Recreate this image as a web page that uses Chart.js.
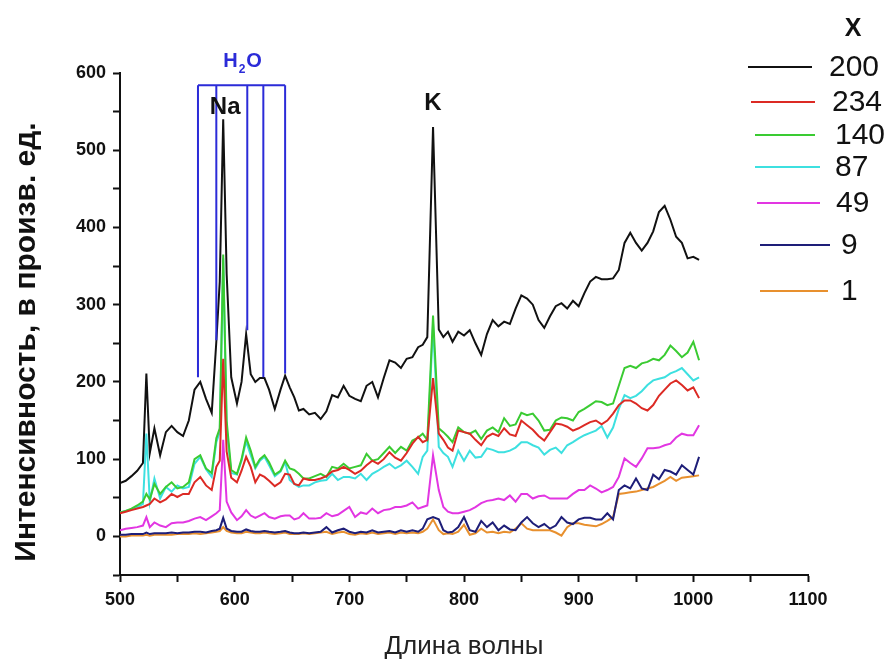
<!DOCTYPE html>
<html>
<head>
<meta charset="utf-8">
<script src="https://cdn.jsdelivr.net/npm/chart.js@4.4.1/dist/chart.umd.min.js"></script>
<style>
    html, body { margin: 0; padding: 0; background: #fff; }
    #wrap { width: 888px; height: 660px; }
</style>
</head>
<body>
<div id="wrap"><canvas id="grafico" width="888" height="660"></canvas></div>
<script>
// длина волны, нм
const wl = [500, 505, 510, 515, 520, 523, 526, 530, 535, 540, 545, 550, 555, 560, 565, 570, 575, 580, 584, 587,
    590, 593, 597, 602, 606, 610, 614, 618, 622, 626, 630, 635, 640, 644, 648, 652, 656, 660, 665, 670,
    675, 680, 685, 690, 695, 700, 705, 710, 715, 720, 725, 730, 735, 740, 745, 750, 755, 760, 764, 768,
    773, 778, 782, 786, 790, 795, 800, 805, 810, 815, 820, 825, 830, 835, 840, 845, 850, 855, 860, 865,
    870, 875, 880, 885, 890, 895, 900, 905, 910, 915, 920, 925, 930, 935, 940, 945, 950, 955, 960, 965,
    970, 975, 980, 985, 990, 995, 1000, 1005];

const x200 = [69, 72, 78, 85, 95, 211, 108, 140, 105, 135, 143, 135, 130, 150, 190, 200, 178, 160, 252, 330,
    540, 340, 206, 172, 200, 262, 210, 200, 205, 205, 190, 165, 190, 208, 193, 180, 163, 165, 158, 160,
    152, 162, 183, 180, 195, 182, 178, 175, 195, 200, 180, 205, 228, 225, 218, 230, 232, 245, 248, 258,
    530, 268, 258, 265, 252, 265, 260, 267, 250, 235, 262, 280, 272, 278, 275, 295, 312, 308, 300, 280,
    270, 285, 298, 302, 295, 305, 298, 315, 330, 336, 333, 333, 334, 345, 380, 393, 380, 370, 380, 395,
    420, 428, 410, 388, 380, 360, 362, 358];

const x234 = [30, 32, 34, 36, 38, 40, 42, 49, 44, 48, 55, 51, 55, 55, 70, 77, 66, 60, 90, 98,
    230, 110, 76, 70, 85, 103, 90, 70, 80, 77, 72, 65, 70, 81, 80, 68, 66, 75, 73, 73,
    75, 78, 84, 86, 90, 86, 81, 85, 92, 98, 94, 100, 109, 102, 98, 108, 120, 129, 122, 125,
    205, 133, 125, 115, 111, 137, 135, 133, 125, 118, 129, 133, 130, 140, 132, 130, 150, 144, 138, 130,
    124, 135, 146, 145, 142, 137, 140, 144, 148, 150, 145, 150, 159, 170, 176, 176, 172, 166, 163, 170,
    182, 190, 198, 202, 196, 189, 193, 179];

const x140 = [31, 33, 36, 40, 45, 55, 48, 68, 55, 64, 70, 62, 64, 70, 100, 105, 88, 82, 127, 140,
    365, 150, 86, 81, 100, 128, 111, 90, 100, 105, 96, 80, 85, 98, 88, 86, 81, 75, 75, 78,
    81, 77, 90, 88, 94, 88, 90, 92, 107, 98, 100, 108, 116, 108, 116, 111, 124, 128, 133, 125,
    286, 140, 135, 129, 122, 141, 135, 133, 137, 126, 137, 141, 135, 153, 143, 145, 160, 157, 159, 150,
    137, 138, 150, 154, 153, 150, 161, 165, 170, 175, 174, 170, 172, 195, 218, 221, 218, 224, 226, 230,
    228, 235, 247, 240, 232, 238, 252, 228];

const x87 = [31, 33, 35, 38, 42, 133, 45, 75, 49, 64, 58, 66, 62, 64, 94, 103, 87, 77, 122, 135,
    360, 140, 82, 80, 98, 123, 105, 88, 98, 103, 92, 78, 84, 96, 73, 68, 64, 66, 66, 70,
    72, 73, 81, 73, 77, 77, 75, 81, 73, 81, 85, 90, 94, 88, 92, 98, 90, 81, 103, 111,
    275, 116, 108, 103, 90, 111, 98, 111, 102, 103, 114, 112, 109, 109, 111, 115, 122, 122, 118, 115,
    106, 112, 115, 108, 118, 122, 127, 131, 134, 137, 143, 128, 141, 165, 183, 179, 182, 188, 196, 202,
    204, 206, 211, 214, 218, 210, 202, 206];

const x49 = [8, 10, 11, 12, 14, 25, 12, 18, 14, 12, 17, 18, 18, 20, 23, 25, 21, 26, 30, 34,
    125, 45, 31, 21, 26, 34, 27, 24, 27, 30, 25, 23, 26, 27, 27, 22, 24, 30, 23, 23,
    24, 30, 26, 28, 33, 38, 25, 31, 29, 36, 30, 34, 35, 38, 38, 40, 44, 36, 38, 40,
    105, 60, 38, 32, 30, 30, 32, 34, 38, 43, 46, 47, 49, 47, 53, 45, 55, 55, 49, 52,
    53, 49, 49, 49, 49, 55, 60, 60, 66, 62, 57, 60, 64, 77, 101, 95, 90, 101, 114, 114,
    115, 118, 120, 128, 133, 131, 131, 144];

const x9 = [2, 2, 3, 3, 3, 5, 3, 4, 4, 4, 5, 4, 5, 5, 6, 6, 5, 7, 8, 10,
    24, 10, 7, 6, 6, 9, 7, 6, 6, 7, 6, 5, 6, 7, 5, 4, 4, 5, 4, 5,
    6, 12, 5, 8, 10, 6, 4, 6, 5, 8, 5, 6, 7, 5, 8, 6, 8, 6, 10, 22,
    25, 22, 8, 5, 6, 12, 25, 8, 6, 20, 12, 18, 8, 14, 9, 8, 18, 25, 17, 12,
    16, 10, 14, 25, 18, 16, 22, 24, 24, 22, 22, 30, 22, 60, 66, 62, 75, 62, 60, 80,
    74, 86, 84, 80, 92, 86, 80, 103];

const x1 = [0, 0, 1, 1, 1, 2, 1, 2, 2, 2, 2, 3, 3, 3, 4, 3, 4, 5, 6, 7,
    12, 7, 5, 4, 4, 6, 5, 4, 4, 5, 4, 3, 4, 5, 3, 3, 3, 4, 3, 4,
    5, 6, 3, 5, 6, 3, 2, 4, 3, 5, 3, 4, 5, 3, 5, 4, 5, 4, 6, 10,
    22, 8, 3, 4, 3, 6, 15, 2, 4, 10, 5, 6, 4, 6, 5, 10, 17, 10, 8, 8,
    8, 8, 5, 1, 12, 17, 17, 15, 14, 13, 16, 20, 25, 55, 56, 57, 58, 60, 62, 64,
    68, 72, 77, 72, 76, 77, 78, 79];

const seriesNames = ['200', '234', '140', '87', '49', '9', '1'];
const seriesValues = [x200, x234, x140, x87, x49, x9, x1];
const seriesColors = ['#111111', '#dc2a24', '#3acb32', '#3de0e0', '#e236e2', '#1e1e78', '#e8902e'];

// полосы воды: положение, нижний конец, верх рамки
const h2oLines = [568, 584, 611, 625, 644];
const h2oBottoms = [206, 254, 267, 206, 211];
const h2oTop = 584;

// подписи пиков
const peakNames = ['Na', 'K'];
const peakWl = [590, 773];
const peakLabelY = [555, 561];

// позиции легенды (пиксели)
const legendRows = [
    { x1: 748, x2: 812, y: 67, tx: 829 },
    { x1: 751, x2: 815, y: 102, tx: 832 },
    { x1: 755, x2: 815, y: 135, tx: 835 },
    { x1: 755, x2: 820, y: 167, tx: 835 },
    { x1: 757, x2: 820, y: 203, tx: 836 },
    { x1: 760, x2: 830, y: 245, tx: 841 },
    { x1: 760, x2: 828, y: 291, tx: 841 }
];

const FONT = "'Liberation Sans', Arial, sans-serif";

const decoracoes = {
    id: 'decoracoes',
    afterDatasetsDraw(chart) {
        const ctx = chart.ctx;
        const xs = chart.scales.x;
        const ys = chart.scales.y;

        // рамка H2O
        ctx.save();
        ctx.strokeStyle = '#2b2bd8';
        ctx.lineWidth = 2;
        ctx.beginPath();
        ctx.moveTo(xs.getPixelForValue(h2oLines[0]), ys.getPixelForValue(h2oTop));
        ctx.lineTo(xs.getPixelForValue(h2oLines[h2oLines.length - 1]), ys.getPixelForValue(h2oTop));
        h2oLines.forEach((w, i) => {
            const px = xs.getPixelForValue(w);
            ctx.moveTo(px, ys.getPixelForValue(h2oTop));
            ctx.lineTo(px, ys.getPixelForValue(h2oBottoms[i]));
        });
        ctx.stroke();

        // H2O
        const cx = (xs.getPixelForValue(h2oLines[0]) + xs.getPixelForValue(h2oLines[h2oLines.length - 1])) / 2 + 1;
        const by = ys.getPixelForValue(h2oTop) - 18;
        ctx.fillStyle = '#2b2bd8';
        ctx.textBaseline = 'alphabetic';
        ctx.font = 'bold 20px ' + FONT;
        const wH = ctx.measureText('H').width;
        const wO = ctx.measureText('O').width;
        ctx.font = 'bold 12px ' + FONT;
        const w2 = ctx.measureText('2').width;
        let sx = cx - (wH + w2 + wO + 2) / 2;
        ctx.font = 'bold 20px ' + FONT;
        ctx.textAlign = 'left';
        ctx.fillText('H', sx, by);
        ctx.font = 'bold 12px ' + FONT;
        ctx.fillText('2', sx + wH + 1, by + 6);
        ctx.font = 'bold 20px ' + FONT;
        ctx.fillText('O', sx + wH + w2 + 2, by);

        // Na, K
        ctx.fillStyle = '#111';
        ctx.font = 'bold 24px ' + FONT;
        ctx.textAlign = 'center';
        ctx.textBaseline = 'middle';
        peakNames.forEach((n, i) => {
            ctx.fillText(n, xs.getPixelForValue(peakWl[i]) + (i === 0 ? 2 : 0), ys.getPixelForValue(peakLabelY[i]));
        });

        // подпись оси Y
        ctx.save();
        ctx.translate(27, 342);
        ctx.rotate(-Math.PI / 2);
        ctx.font = 'bold 30px ' + FONT;
        ctx.fillStyle = '#111';
        ctx.textAlign = 'center';
        ctx.textBaseline = 'middle';
        ctx.fillText('Интенсивность, в произв. ед.', 0, 0);
        ctx.restore();

        // легенда
        ctx.font = 'bold 25px ' + FONT;
        ctx.fillStyle = '#111';
        ctx.textAlign = 'center';
        ctx.textBaseline = 'middle';
        ctx.fillText('X', 853, 29);
        ctx.font = '30px ' + FONT;
        ctx.textAlign = 'left';
        legendRows.forEach((r, i) => {
            ctx.strokeStyle = seriesColors[i];
            ctx.lineWidth = 2;
            ctx.beginPath();
            ctx.moveTo(r.x1, r.y);
            ctx.lineTo(r.x2, r.y);
            ctx.stroke();
            ctx.fillStyle = '#111';
            ctx.fillText(seriesNames[i], r.tx, r.y + 1);
        });
        ctx.restore();
    }
};

const datasets = seriesNames.map((nome, i) => ({
    label: nome,
    data: wl.map((x, j) => ({ x, y: seriesValues[i][j] })),
    borderColor: seriesColors[i],
    borderWidth: 2,
    pointRadius: 0,
    tension: 0,
    fill: false
}));

const eixoTicks = (v) => (v % 100 === 0 ? String(v) : '');

new Chart(document.getElementById('grafico').getContext('2d'), {
    type: 'line',
    data: { datasets },
    options: {
        responsive: false,
        animation: false,
        devicePixelRatio: 1,
        layout: { padding: { top: 73, right: 80, left: 0, bottom: 0 } },
        plugins: { legend: { display: false }, tooltip: { enabled: false } },
        scales: {
            x: {
                type: 'linear',
                min: 500,
                max: 1100,
                afterFit: (s) => { s.height = 85; },
                border: { display: true, color: '#111', width: 2 },
                grid: { drawOnChartArea: false, drawTicks: true, tickLength: 7, tickColor: '#111', tickWidth: 2 },
                ticks: {
                    stepSize: 50,
                    autoSkip: false,
                    maxRotation: 0,
                    padding: 7,
                    color: '#111',
                    font: { family: FONT, size: 18, weight: 'bold' },
                    callback: eixoTicks
                },
                title: {
                    display: true,
                    text: 'Длина волны',
                    color: '#222',
                    font: { family: FONT, size: 26 },
                    padding: { top: 0, bottom: -2 }
                }
            },
            y: {
                min: -50,
                max: 600,
                afterFit: (s) => { s.width = 120; },
                border: { display: true, color: '#111', width: 2 },
                grid: { drawOnChartArea: false, drawTicks: true, tickLength: 7, tickColor: '#111', tickWidth: 2 },
                ticks: {
                    stepSize: 50,
                    autoSkip: false,
                    padding: 7,
                    color: '#111',
                    font: { family: FONT, size: 18, weight: 'bold' },
                    callback: eixoTicks
                }
            }
        }
    },
    plugins: [decoracoes]
});
</script>
</body>
</html>
